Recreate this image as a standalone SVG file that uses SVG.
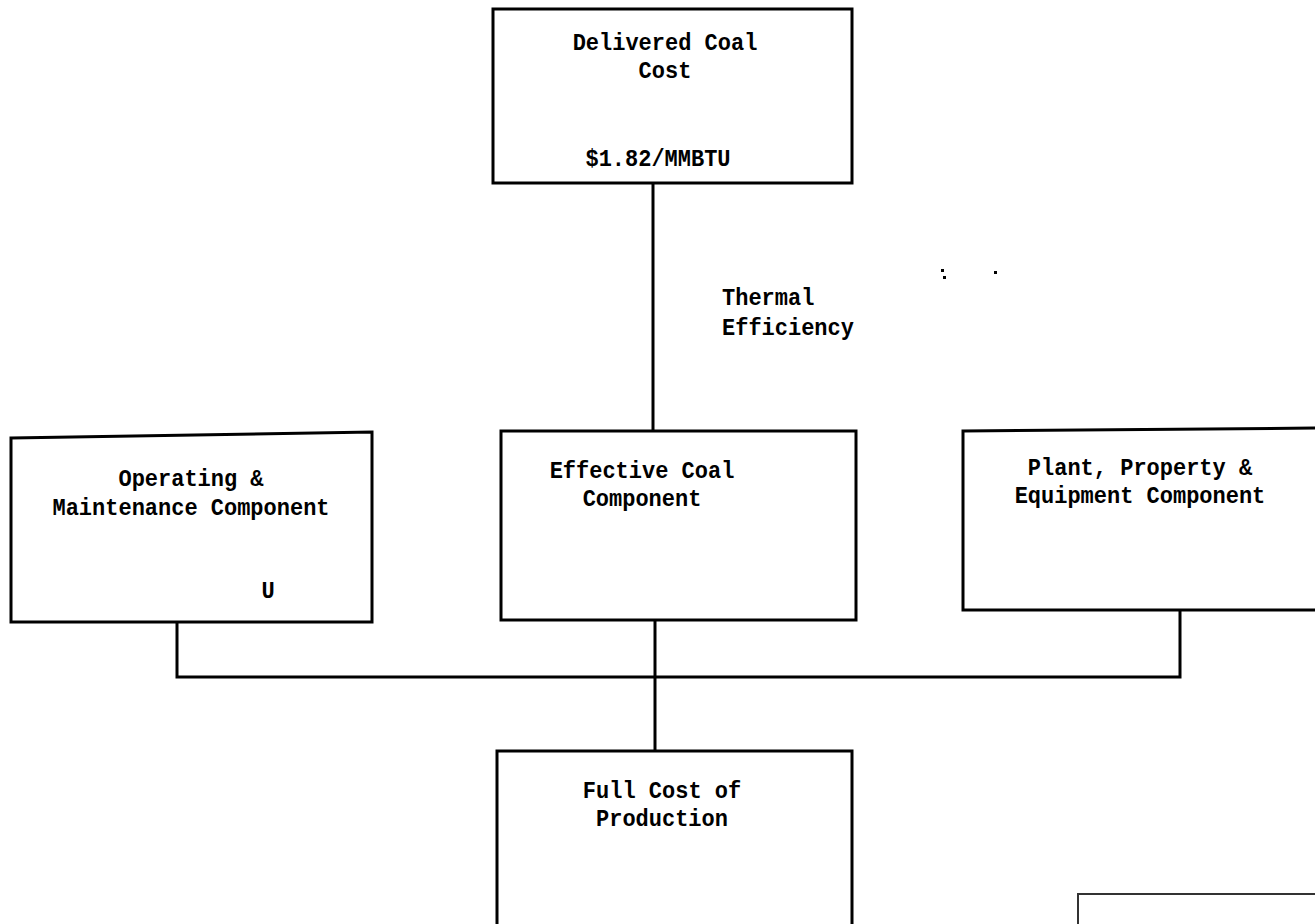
<svg xmlns="http://www.w3.org/2000/svg" width="1315" height="924" viewBox="0 0 1315 924">
<style>
.box{fill:#fff;stroke:#000;stroke-width:3}
.ln{fill:none;stroke:#000;stroke-width:3}
.t{font-family:"Liberation Mono","DejaVu Sans Mono",monospace;font-weight:bold;font-size:22px;fill:#000;transform-box:fill-box;transform-origin:center;transform:scaleY(1.1)}
.c{text-anchor:middle}
</style>
<rect width="1315" height="924" fill="#fff"/>
<g id="connectors">
<path class="ln" d="M653 183V431"/>
<path class="ln" d="M177 622V677H1180V610"/>
<path class="ln" d="M655 620V751"/>
</g>
<g id="delivered">
<rect class="box" x="493" y="9" width="359" height="174"/>
<text class="t c" x="665" y="49">Delivered Coal</text>
<text class="t c" x="665" y="77">Cost</text>
<text class="t c" x="658" y="165">$1.82/MMBTU</text>
</g>
<g id="thermal">
<text class="t" x="722" y="304">Thermal</text>
<text class="t" x="722" y="334">Efficiency</text>
</g>
<g id="dots">
<rect x="941" y="269" width="3" height="3"/>
<rect x="943" y="276" width="3" height="3"/>
<rect x="994" y="271" width="3" height="3"/>
</g>
<g id="om">
<path class="box" d="M11 438L372 432V622H11Z"/>
<text class="t c" x="191" y="485">Operating &amp;</text>
<text class="t c" x="191" y="514">Maintenance Component</text>
<text class="t c" x="268" y="597">U</text>
</g>
<g id="effective">
<rect class="box" x="501" y="431" width="355" height="189"/>
<text class="t c" x="642" y="477">Effective Coal</text>
<text class="t c" x="642" y="505">Component</text>
</g>
<g id="ppe">
<path class="box" d="M963 431L1318 428V610H963Z"/>
<text class="t c" x="1140" y="474">Plant, Property &amp;</text>
<text class="t c" x="1140" y="502">Equipment Component</text>
</g>
<g id="fullcost">
<path class="box" d="M497 927V751H852V927"/>
<text class="t c" x="662" y="797">Full Cost of</text>
<text class="t c" x="662" y="825">Production</text>
</g>
<g id="stamp">
<path fill="none" stroke="#333" stroke-width="2" d="M1078 926V894H1315"/>
</g>
</svg>
